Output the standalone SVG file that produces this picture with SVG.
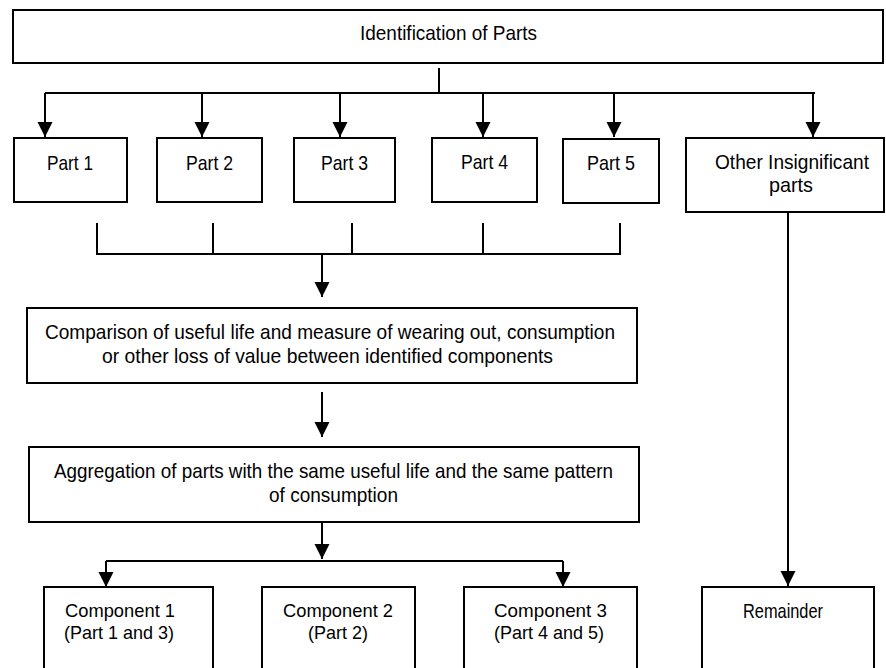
<svg xmlns="http://www.w3.org/2000/svg" width="886" height="668" viewBox="0 0 886 668">
<defs>
<style>
.box{fill:#fff;stroke:#000;stroke-width:2}
.ln{fill:none;stroke:#000;stroke-width:2}
.arr{fill:none;stroke:#000;stroke-width:2;marker-end:url(#ah)}
text{font-family:"Liberation Sans Narrow","Arial Narrow","Liberation Sans",Arial,sans-serif;font-size:21px;fill:#000;text-anchor:middle}
.sm{font-size:19px}
</style>
<marker id="ah" markerUnits="userSpaceOnUse" markerWidth="16" markerHeight="16" refX="15" refY="7.5" orient="auto">
<path d="M0,0 L15,7.5 L0,15 z" fill="#000"/>
</marker>
</defs>
<rect width="886" height="668" fill="#fff"/>
<g id="connectors">
<path class="ln" d="M439,68 V93 M45,93 H815"/>
<path class="arr" d="M45,93 V137"/>
<path class="arr" d="M202,93 V137"/>
<path class="arr" d="M340,93 V137"/>
<path class="arr" d="M483,93 V137"/>
<path class="arr" d="M614,93 V137"/>
<path class="arr" d="M813,93 V137"/>
<path class="ln" d="M97,223 V255 M213,223 V255 M352,223 V255 M483,223 V255 M620,223 V255 M97,254 H620"/>
<path class="arr" d="M322,254 V297"/>
<path class="arr" d="M322,392 V437"/>
<path class="arr" d="M322,522 V559"/>
<path class="ln" d="M106,561 H563"/>
<path class="arr" d="M106,561 V587"/>
<path class="arr" d="M563,561 V587"/>
<path class="arr" d="M788,212 V586"/>
</g>
<g id="identification">
<rect class="box" x="13" y="10" width="870" height="53"/>
<text x="448.5" y="40" textLength="177" lengthAdjust="spacingAndGlyphs">Identification of Parts</text>
</g>
<g id="part1">
<rect class="box" x="14" y="138" width="113" height="64"/>
<text x="70" y="170" textLength="46" lengthAdjust="spacingAndGlyphs">Part 1</text>
</g>
<g id="part2">
<rect class="box" x="157" y="138" width="105" height="64"/>
<text x="209.5" y="170" textLength="47" lengthAdjust="spacingAndGlyphs">Part 2</text>
</g>
<g id="part3">
<rect class="box" x="294" y="138" width="101" height="64"/>
<text x="344.5" y="170" textLength="47" lengthAdjust="spacingAndGlyphs">Part 3</text>
</g>
<g id="part4">
<rect class="box" x="432" y="138" width="105" height="64"/>
<text x="484.5" y="169" textLength="47" lengthAdjust="spacingAndGlyphs">Part 4</text>
</g>
<g id="part5">
<rect class="box" x="563" y="139" width="96" height="64"/>
<text x="611" y="170" textLength="48" lengthAdjust="spacingAndGlyphs">Part 5</text>
</g>
<g id="other">
<rect class="box" x="686" y="138" width="198" height="74"/>
<text x="792" y="169" textLength="154" lengthAdjust="spacingAndGlyphs">Other Insignificant</text>
<text x="791" y="192" textLength="44" lengthAdjust="spacingAndGlyphs">parts</text>
</g>
<g id="comparison">
<rect class="box" x="27" y="308" width="610" height="75"/>
<text x="330" y="339" textLength="570" lengthAdjust="spacingAndGlyphs">Comparison of useful life and measure of wearing out, consumption</text>
<text x="327.5" y="363" textLength="451" lengthAdjust="spacingAndGlyphs">or other loss of value between identified components</text>
</g>
<g id="aggregation">
<rect class="box" x="29" y="447" width="610" height="75"/>
<text x="333.5" y="478" textLength="559" lengthAdjust="spacingAndGlyphs">Aggregation of parts with the same useful life and the same pattern</text>
<text x="333.5" y="502" textLength="129" lengthAdjust="spacingAndGlyphs">of consumption</text>
</g>
<g id="component1">
<rect class="box" x="44" y="587" width="169" height="90"/>
<text class="sm" x="120" y="617" textLength="110" lengthAdjust="spacingAndGlyphs">Component 1</text>
<text class="sm" x="119" y="639" textLength="110" lengthAdjust="spacingAndGlyphs">(Part 1 and 3)</text>
</g>
<g id="component2">
<rect class="box" x="262" y="587" width="153" height="90"/>
<text class="sm" x="338" y="617" textLength="110" lengthAdjust="spacingAndGlyphs">Component 2</text>
<text class="sm" x="338" y="639" textLength="60" lengthAdjust="spacingAndGlyphs">(Part 2)</text>
</g>
<g id="component3">
<rect class="box" x="464" y="587" width="173" height="90"/>
<text class="sm" x="550.5" y="617" textLength="113" lengthAdjust="spacingAndGlyphs">Component 3</text>
<text class="sm" x="549" y="639" textLength="110" lengthAdjust="spacingAndGlyphs">(Part 4 and 5)</text>
</g>
<g id="remainder">
<rect class="box" x="702" y="587" width="172" height="90"/>
<text x="783" y="618" textLength="80" lengthAdjust="spacingAndGlyphs">Remainder</text>
</g>
</svg>
